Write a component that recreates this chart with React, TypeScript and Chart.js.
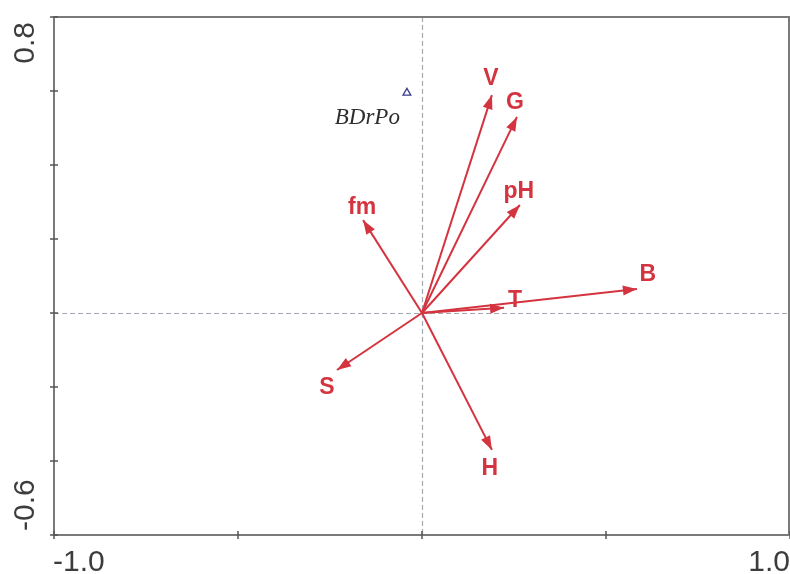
import React, { useEffect, useRef } from 'react';
import { Chart, registerables } from 'chart.js';

Chart.register(...registerables);

// ---- data ----
const variableNames = ['V', 'G', 'pH', 'fm', 'B', 'T', 'S', 'H'];
const axis1Scores = [0.19, 0.258, 0.266, -0.16, 0.584, 0.223, -0.231, 0.19];
const axis2Scores = [0.589, 0.53, 0.292, 0.251, 0.065, 0.014, -0.154, -0.37];

const sampleNames = ['BDrPo'];
const sampleAxis1 = [-0.041];
const sampleAxis2 = [0.595];

const xTickValues = [-1, -0.5, 0, 0.5, 1];
const xTickLabels = ['-1.0', '', '', '', '1.0'];
const yTickValues = [-0.6, -0.4, -0.2, 0, 0.2, 0.4, 0.6, 0.8];
const yTickLabels = ['-0.6', '', '', '', '', '', '', '0.8'];

// ---- layout / style (pixel nudges for the arrow labels) ----
const labelNudge: [number, number][] = [
  [-1, -17], [-2, -15], [-1, -14], [-1, -13], [11, -15], [11, -8], [-10, 17], [-2, 18],
];
const RED = '#d4343f';
const AXIS = '#7a7a7a';
const TEXT = '#3c3c3c';

const biplotPlugin = {
  id: 'biplot',
  beforeDraw(chart: any) {
    const { ctx, width, height } = chart;
    ctx.save();
    ctx.fillStyle = '#ffffff';
    ctx.fillRect(0, 0, width, height);
    ctx.restore();
  },
  beforeDatasetsDraw(chart: any) {
    const { ctx, chartArea: a, scales } = chart;
    const x0 = Math.round(scales.x.getPixelForValue(0)) + 0.5;
    const y0 = Math.round(scales.y.getPixelForValue(0)) + 0.5;
    ctx.save();
    ctx.strokeStyle = '#a3aab2';
    ctx.lineWidth = 1.2;
    ctx.setLineDash([5, 3]);
    ctx.beginPath();
    ctx.moveTo(x0, a.top);
    ctx.lineTo(x0, a.bottom);
    ctx.moveTo(a.left, y0);
    ctx.lineTo(a.right, y0);
    ctx.stroke();
    ctx.restore();
  },
  afterDatasetsDraw(chart: any) {
    const { ctx, scales } = chart;
    const ox = scales.x.getPixelForValue(0);
    const oy = scales.y.getPixelForValue(0);
    ctx.save();
    variableNames.forEach((name, i) => {
      const px = scales.x.getPixelForValue(axis1Scores[i]);
      const py = scales.y.getPixelForValue(axis2Scores[i]);
      const ang = Math.atan2(py - oy, px - ox);
      const len = 14;
      const hw = 5;
      const bx = px - len * Math.cos(ang);
      const by = py - len * Math.sin(ang);
      ctx.fillStyle = RED;
      ctx.beginPath();
      ctx.moveTo(px, py);
      ctx.lineTo(bx - hw * Math.sin(ang), by + hw * Math.cos(ang));
      ctx.lineTo(bx + hw * Math.sin(ang), by - hw * Math.cos(ang));
      ctx.closePath();
      ctx.fill();
      ctx.font = 'bold 23px "Liberation Sans", Arial, sans-serif';
      ctx.textAlign = 'center';
      ctx.textBaseline = 'middle';
      ctx.fillText(name, px + labelNudge[i][0], py + labelNudge[i][1] + 1);
    });
    sampleNames.forEach((name, i) => {
      const px = scales.x.getPixelForValue(sampleAxis1[i]);
      const py = scales.y.getPixelForValue(sampleAxis2[i]);
      ctx.fillStyle = '#2e2e2e';
      ctx.font = 'italic 23px "Liberation Serif", "Times New Roman", serif';
      ctx.textAlign = 'right';
      ctx.textBaseline = 'alphabetic';
      ctx.fillText(name, px - 7, py + 31);
    });
    ctx.restore();
  },
  afterDraw(chart: any) {
    const { ctx, chartArea: a, scales } = chart;
    ctx.save();
    // frame
    ctx.strokeStyle = AXIS;
    ctx.lineWidth = 2;
    ctx.strokeRect(a.left, a.top, a.right - a.left - 1, a.bottom - a.top);
    // tick marks
    ctx.lineWidth = 1.5;
    ctx.strokeStyle = '#555';
    ctx.beginPath();
    xTickValues.forEach((v) => {
      const x = Math.round(scales.x.getPixelForValue(v));
      ctx.moveTo(x, a.bottom - 4);
      ctx.lineTo(x, a.bottom + 4);
    });
    yTickValues.forEach((v) => {
      const y = Math.round(scales.y.getPixelForValue(v));
      ctx.moveTo(a.left - 4, y);
      ctx.lineTo(a.left + 4, y);
    });
    ctx.stroke();
    // tick labels
    ctx.fillStyle = TEXT;
    ctx.font = '30px "Liberation Sans", Arial, sans-serif';
    ctx.textBaseline = 'alphabetic';
    xTickValues.forEach((v, i) => {
      const t = xTickLabels[i];
      if (!t) return;
      const x = scales.x.getPixelForValue(v);
      ctx.textAlign = i === 0 ? 'left' : i === xTickValues.length - 1 ? 'right' : 'center';
      ctx.fillText(t, i === 0 ? x - 1 : x, 571);
    });
    yTickValues.forEach((v, i) => {
      const t = yTickLabels[i];
      if (!t) return;
      const y = scales.y.getPixelForValue(v);
      ctx.save();
      const first = i === 0;
      ctx.translate(26, first ? y - 4 : y + 5);
      ctx.rotate(-Math.PI / 2);
      ctx.textAlign = first ? 'left' : 'right';
      ctx.textBaseline = 'middle';
      ctx.fillText(t, 0, 0);
      ctx.restore();
    });
    ctx.restore();
  },
};

export default function App() {
  const canvasRef = useRef<HTMLCanvasElement | null>(null);

  useEffect(() => {
    const canvas = canvasRef.current;
    if (!canvas) return;
    const arrowSets = variableNames.map((name, i) => ({
      type: 'line' as const,
      label: name,
      data: [
        { x: 0, y: 0 },
        { x: axis1Scores[i], y: axis2Scores[i] },
      ],
      borderColor: RED,
      borderWidth: 2,
      pointRadius: 0,
      fill: false,
    }));
    const sampleSet = {
      type: 'scatter' as const,
      label: 'samples',
      data: sampleNames.map((_, i) => ({ x: sampleAxis1[i], y: sampleAxis2[i] })),
      pointStyle: 'triangle',
      pointRadius: 4.5,
      borderColor: '#3b3b8f',
      backgroundColor: 'rgba(0,0,0,0)',
      borderWidth: 1.3,
    };
    const chart = new Chart(canvas, {
      type: 'scatter',
      data: { datasets: [...arrowSets, sampleSet] as any },
      options: {
        animation: false,
        responsive: false,
        devicePixelRatio: 1,
        layout: { autoPadding: false, padding: { left: 54, top: 17, right: 0, bottom: 39 } },
        plugins: { legend: { display: false }, tooltip: { enabled: false } },
        scales: {
          x: { type: 'linear', min: -1, max: 1, display: false },
          y: { type: 'linear', min: -0.6, max: 0.8, display: false },
        },
      },
      plugins: [biplotPlugin],
    });
    return () => chart.destroy();
  }, []);

  return (
    <div style={{ position: 'absolute', left: 0, top: 0, width: 790, height: 574, background: '#fff' }}>
      <canvas ref={canvasRef} width={790} height={574} />
    </div>
  );
}
